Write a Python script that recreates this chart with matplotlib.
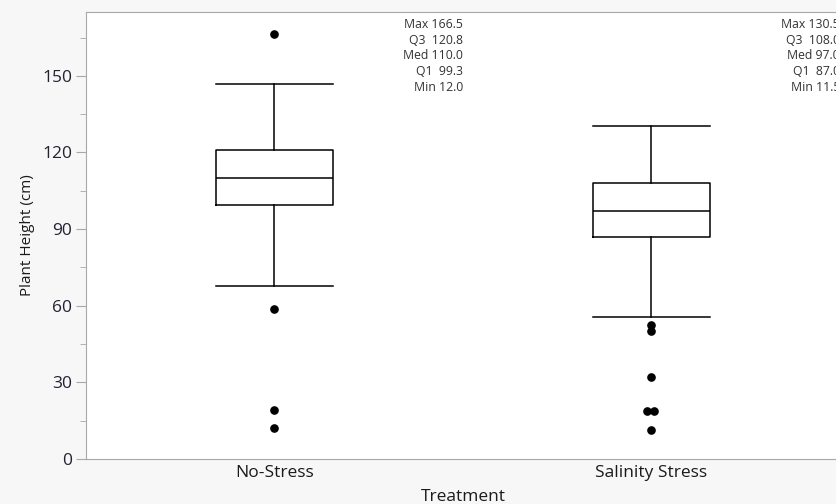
import numpy as np
import matplotlib.pyplot as plt

plt.rcParams['font.family'] = ['Open Sans', 'DejaVu Sans']

# =============================================================================
# Summary data (Plant Height, cm)
# =============================================================================
groups = ['No-Stress', 'Salinity Stress']
q_min = [12.0, 11.5]
q1 = [99.3, 87.0]
med = [110.0, 97.0]
q3 = [120.8, 108.0]
q_max = [166.5, 130.5]
whisk_lo = [67.8, 55.5]
whisk_hi = [147.0, 130.5]
outliers = [[166.5, 58.7, 19.2, 12.0],
            [52.5, 50.1, 32.1, 18.8, 18.8, 11.5]]
# small sideways shift for overlapping points
jitter = [[0, 0, 0, 0],
          [0, 0, 0, -0.012, 0.006, 0]]

stats = []
for i, g in enumerate(groups):
    stats.append(dict(label=g, whislo=whisk_lo[i], q1=q1[i], med=med[i],
                      q3=q3[i], whishi=whisk_hi[i], fliers=[]))

# =============================================================================
# Plot
# =============================================================================
fig = plt.figure(figsize=(8.37, 5.04), dpi=100, facecolor='#f7f7f7')
ax = fig.add_axes([86/837, 45/504, 754/837, 447/504])
ax.set_facecolor('white')

pos = np.arange(len(groups))
line = dict(color='black', linewidth=1.1)
ax.bxp(stats, positions=pos, widths=0.31, capwidths=0.31, showfliers=False,
       boxprops=line, whiskerprops=line, capprops=line, medianprops=line)

for i in range(len(groups)):
    ax.plot(pos[i] + np.array(jitter[i]), outliers[i], 'o', color='black',
            markersize=5.2, zorder=3)
    txt = ('Max %.1f\nQ3  %.1f\nMed %.1f\nQ1  %.1f\nMin %.1f'
           % (q_max[i], q3[i], med[i], q1[i], q_min[i]))
    ax.text(pos[i] + 0.5, 172.7, txt, ha='right', va='top',
            multialignment='right', fontsize=8.8, color='#333333',
            linespacing=1.27)

ax.set_xlim(-0.5, 1.5)
ax.set_ylim(0, 175)
ax.set_yticks(np.arange(0, 151, 30))
ax.set_yticks(np.arange(15, 175, 30), minor=True)
ax.set_xticks(pos)
ax.set_xticklabels(groups)

for s in ax.spines.values():
    s.set_color('#a8a8a8')
ax.tick_params(axis='y', which='major', length=7, color='#a8a8a8',
               labelsize=12.5, labelcolor='#222233', pad=3)
ax.tick_params(axis='y', which='minor', length=4, color='#a8a8a8')
ax.tick_params(axis='x', length=0, labelsize=12.5, labelcolor='#1a1a1a', pad=4)

ax.set_ylabel('Plant Height (cm)', fontsize=11, color='#1a1a1a', labelpad=5)
ax.set_xlabel('Treatment', fontsize=12.5, color='#1a1a1a', labelpad=6)

plt.savefig('out.png', dpi=100, facecolor=fig.get_facecolor())
